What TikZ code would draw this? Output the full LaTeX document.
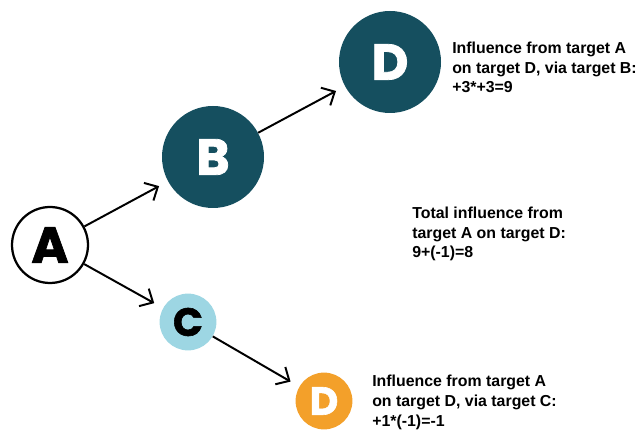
\documentclass[tikz,border=0pt]{standalone}
\usepackage{fontspec}
\setmainfont{Liberation Sans}
\newfontfamily\letterfont{Poppins}[BoldFeatures={FakeBold=1.5}]
\usetikzlibrary{arrows.meta, positioning}

\definecolor{darkteal}{HTML}{154F5F}
\definecolor{lightblue}{HTML}{9DD6E3}
\definecolor{orangeD}{HTML}{F3A02A}

\begin{document}
\begin{tikzpicture}[auto, >={Straight Barb[length=2.6mm,width=5mm]}]
        % Estilos para los objetivos y las notas
        \tikzstyle{target} = [circle, inner sep=0pt, font=\letterfont\bfseries]
        \tikzstyle{big} = [target, minimum size=2.55cm, font=\letterfont\bfseries\fontsize{36}{36}\selectfont]
        \tikzstyle{small} = [target, minimum size=1.42cm, font=\letterfont\bfseries\fontsize{28}{28}\selectfont]
        \tikzstyle{link} = [draw, ->, line width=1.4pt, shorten >=0.25cm]
        \tikzstyle{note} = [anchor=base west, inner sep=0pt, align=left, font=\bfseries\fontsize{11.3}{13.9}\selectfont]

        \useasboundingbox (0,0) rectangle (16,10.8);

        % Nodes
        \node at (1.25,4.675) [target, draw, line width=1.6pt, minimum size=1.9cm, font=\letterfont\bfseries\fontsize{36}{36}\selectfont] (targetA) {A};
        \node [big, fill=darkteal, text=white, on grid, above right=2.2cm and 4.075cm of targetA] (targetB) {B};
        \node [big, fill=darkteal, text=white, on grid, above right=2.375cm and 4.425cm of targetB] (targetD1) {D};
        \node [small, fill=lightblue, on grid, below right=1.925cm and 3.45cm of targetA] (targetC) {C};
        \node [small, fill=orangeD, text=white, on grid, below right=1.975cm and 3.4cm of targetC] (targetD2) {D};

        % Notas (ancladas en la linea base de la ultima linea)
        \node at (11.3,8.475) [note] (viaB) {Influence from target A\\on target D, via target B:\\+3*+3=9};
        \node at (10.3,4.35) [note] (total) {Total influence from\\target A on target D:\\9+(-1)=8};
        \node at (9.3,0.15) [note] (viaC) {Influence from target A\\on target D, via target C:\\+1*(-1)=-1};

        % Lines
        \draw [link] (targetA) -- (targetB);
        \draw [link] (targetB) -- (targetD1);
        \draw [link] (targetA) -- (targetC);
        \draw [link] (targetC) -- (targetD2);

      \end{tikzpicture}
\end{document}
